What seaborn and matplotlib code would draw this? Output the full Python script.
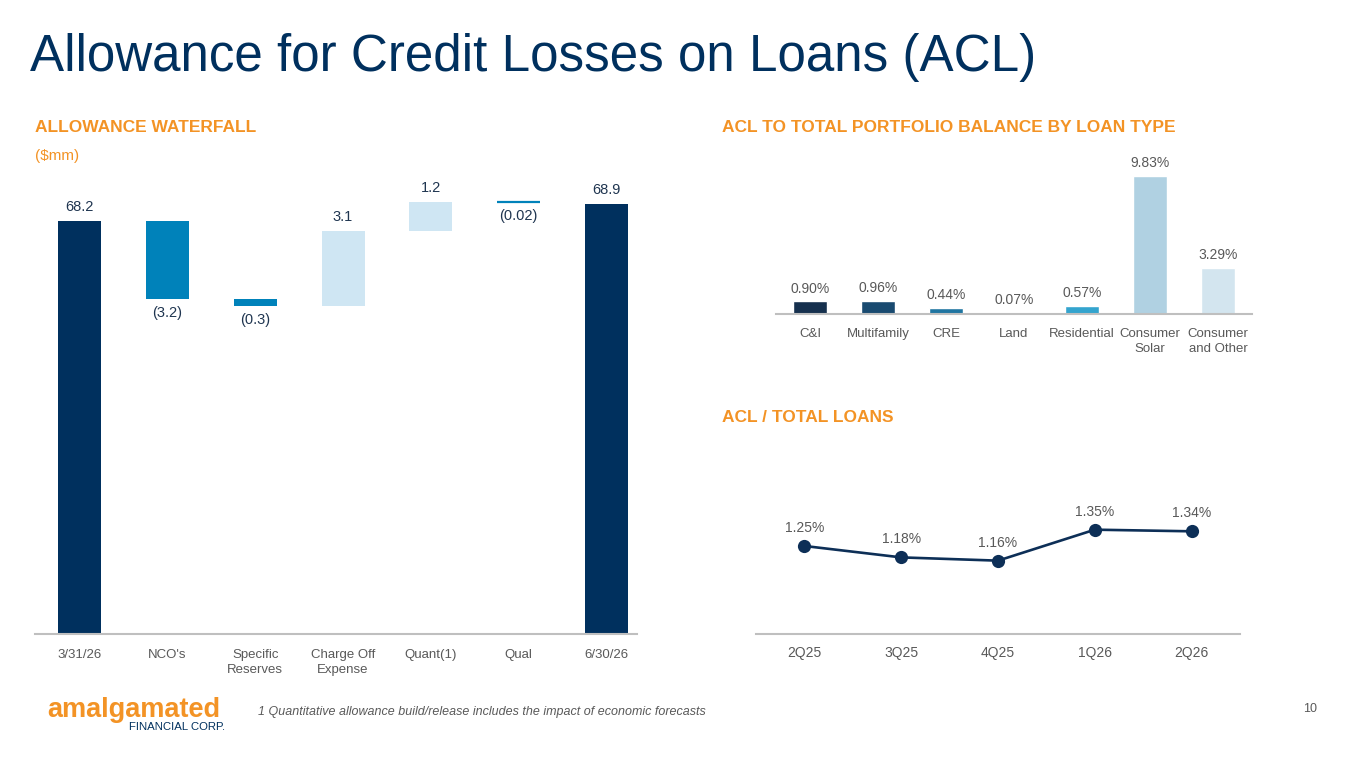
import matplotlib
matplotlib.use("Agg")
import matplotlib.pyplot as plt
import seaborn as sns
import numpy as np

sns.set_style("white")
plt.rcParams['font.family'] = ['Liberation Sans', 'DejaVu Sans']

# Colors
NAVY = '#00305E'
ORANGE = '#F39325'
GREY = '#595959'
AXIS = '#BFBFBF'

# Waterfall data ($mm)
wf_labels = ["3/31/26", "NCO's", "Specific\nReserves", "Charge Off\nExpense", "Quant(1)", "Qual", "6/30/26"]
wf_values = [68.2, -3.2, -0.3, 3.1, 1.2, -0.02, 68.9]
wf_text = ["68.2", "(3.2)", "(0.3)", "3.1", "1.2", "(0.02)", "68.9"]
wf_colors = [NAVY, '#0082BA', '#0082BA', '#CFE6F3', '#CFE6F3', '#0082BA', NAVY]

# ACL by loan type (%)
loan_types = ["C&I", "Multifamily", "CRE", "Land", "Residential", "Consumer\nSolar", "Consumer\nand Other"]
loan_acl = [0.90, 0.96, 0.44, 0.07, 0.57, 9.83, 3.29]
loan_colors = ['#0D2F57', '#0B4C7E', '#0A7CB6', '#0A7CB6', '#1AB0E8', '#A8D3EA', '#CFE6F3']

# ACL / total loans (%)
quarters = ["2Q25", "3Q25", "4Q25", "1Q26", "2Q26"]
acl_ratio = [1.25, 1.18, 1.16, 1.35, 1.34]

W, H = 1365, 768
fig = plt.figure(figsize=(W / 100, H / 100), dpi=100)


def px_axes(left, top, right, bottom):
    return fig.add_axes([left / W, 1 - bottom / H, (right - left) / W, (bottom - top) / H])


def clean(ax):
    for s in ['top', 'right', 'left']:
        ax.spines[s].set_visible(False)
    ax.spines['bottom'].set_color(AXIS)
    ax.spines['bottom'].set_linewidth(1.5)
    ax.set_yticks([])
    ax.set_xlabel('')
    ax.set_ylabel('')
    ax.tick_params(axis='x', length=0, colors=GREY, labelsize=9.5)
    for lbl in ax.get_xticklabels():
        lbl.set_linespacing(1.35)


# --- Waterfall ---
ax1 = px_axes(35, 180, 637, 634)
bottoms, heights = [], []
running = 0.0
for i, v in enumerate(wf_values):
    if i == 0 or i == len(wf_values) - 1:
        bottoms.append(0.0)
        heights.append(v)
        running = v
    else:
        bottoms.append(running)
        heights.append(v)
        running += v
sns.barplot(x=wf_labels, y=heights, bottom=bottoms, color=NAVY, width=0.49, ax=ax1)
for p, c in zip(ax1.patches, wf_colors):
    p.set_facecolor(c)
    p.set_edgecolor(c)
    p.set_linewidth(0)
ax1.patches[5].set_linewidth(1.6)
ax1.set_ylim(51.2, 51.2 + 454 / 24.29)
ax1.set_xlim(-0.51, 6.35)
clean(ax1)
ax1.tick_params(axis='x', pad=11)
for i, (b, h, t) in enumerate(zip(bottoms, heights, wf_text)):
    if h > 0:
        ax1.annotate(t, (i, b + h), xytext=(0, 5), textcoords='offset points',
                     ha='center', va='bottom', fontsize=10.5, color='#1F3550')
    else:
        ax1.annotate(t, (i, b + h), xytext=(0, -5), textcoords='offset points',
                     ha='center', va='top', fontsize=10.5, color='#1F3550')

# --- ACL by loan type ---
ax2 = px_axes(776, 160, 1252, 314)
sns.barplot(x=loan_types, y=loan_acl, hue=loan_types, palette=loan_colors,
            legend=False, width=0.49, ax=ax2)
ax2.set_ylim(0, 154 / 14.04)
ax2.set_xlim(-0.5, 6.5)
clean(ax2)
ax2.tick_params(axis='x', pad=10)
for i, v in enumerate(loan_acl):
    ax2.annotate(f"{v:.2f}%", (i, v), xytext=(0, 4), textcoords='offset points',
                 ha='center', va='bottom', fontsize=10, color=GREY)

# --- ACL / total loans ---
ax3 = px_axes(756, 460, 1240, 634)
sns.lineplot(x=quarters, y=acl_ratio, marker='o', color='#0D2F57', linewidth=1.9,
             markersize=9.5, markeredgewidth=0, sort=False, ax=ax3)
ax3.set_ylim(0.71, 0.71 + 174 / 163)
ax3.set_xlim(-0.5, 4.5)
clean(ax3)
ax3.tick_params(axis='x', pad=9, labelsize=10)
for i, v in enumerate(acl_ratio):
    ax3.annotate(f"{v:.2f}%", (i, v), xytext=(0, 8), textcoords='offset points',
                 ha='center', va='bottom', fontsize=10, color=GREY)

# --- Headings and page text ---
fig.text(30 / W, 1 - 57 / H, "Allowance for Credit Losses on Loans (ACL)",
         fontsize=36.8, color=NAVY, va='center', ha='left')
fig.text(35 / W, 1 - 128 / H, "ALLOWANCE WATERFALL", fontsize=12.5,
         fontweight='bold', color=ORANGE, va='center')
fig.text(35 / W, 1 - 156 / H, "($mm)", fontsize=11, color=ORANGE, va='center')
fig.text(722 / W, 1 - 128 / H, "ACL TO TOTAL PORTFOLIO BALANCE BY LOAN TYPE",
         fontsize=12.5, fontweight='bold', color=ORANGE, va='center')
fig.text(722 / W, 1 - 417 / H, "ACL / TOTAL LOANS", fontsize=12.5,
         fontweight='bold', color=ORANGE, va='center')

fig.text(258 / W, 1 - 712 / H,
         "1 Quantitative allowance build/release includes the impact of economic forecasts",
         fontsize=9, style='italic', color=GREY, va='center')
fig.text(1310 / W, 1 - 709 / H, "10", fontsize=9, color=GREY, va='center', ha='center')

# logo as text
fig.text(47 / W, 1 - 710 / H, "amalgamated", fontsize=19.5, fontweight='bold',
         color=ORANGE, va='center', ha='left')
fig.text(225 / W, 1 - 727 / H, "FINANCIAL CORP.", fontsize=8.2, color=NAVY,
         va='center', ha='right')

fig.savefig("out.png", dpi=100)
